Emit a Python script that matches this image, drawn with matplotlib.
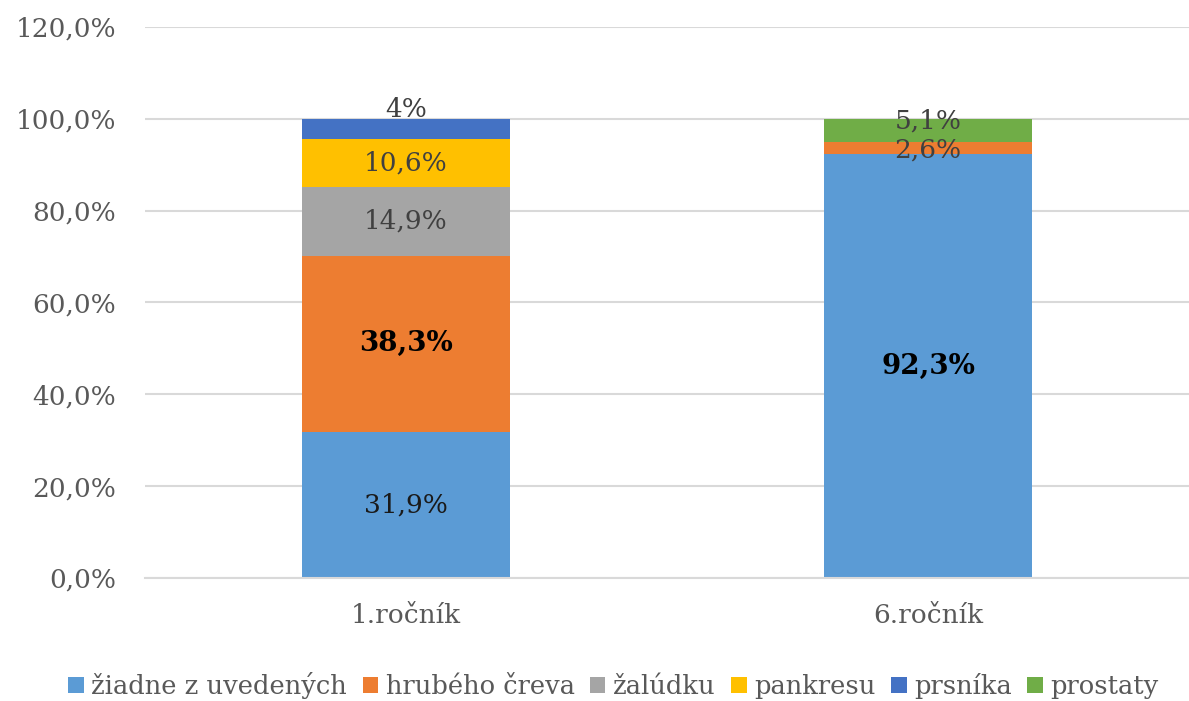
import matplotlib
matplotlib.use("Agg")
import matplotlib.pyplot as plt
import numpy as np

categories = ["1.ročník", "6.ročník"]
series_names = ["žiadne z uvedených", "hrubého čreva", "žalúdku", "pankresu", "prsníka", "prostaty"]
vals_none = [31.9, 92.3]
vals_colon = [38.3, 2.6]
vals_stomach = [14.9, 0.0]
vals_pancreas = [10.6, 0.0]
vals_breast = [4.3, 0.0]
vals_prostate = [0.0, 5.1]
labels_none = ["31,9%", "92,3%"]
labels_colon = ["38,3%", "2,6%"]
labels_stomach = ["14,9%", ""]
labels_pancreas = ["10,6%", ""]
labels_breast = ["4%", ""]
labels_prostate = ["", "5,1%"]
yticks = [0, 20, 40, 60, 80, 100, 120]
ytick_labels = ["0,0%", "20,0%", "40,0%", "60,0%", "80,0%", "100,0%", "120,0%"]

colors = ["#5B9BD5", "#ED7D31", "#A5A5A5", "#FFC000", "#4472C4", "#70AD47"]
series = [vals_none, vals_colon, vals_stomach, vals_pancreas, vals_breast, vals_prostate]
labels = [labels_none, labels_colon, labels_stomach, labels_pancreas, labels_breast, labels_prostate]

plt.rcParams['font.family'] = ['DejaVu Serif']
fig = plt.figure(figsize=(11.89, 7.01), dpi=100)
ax = fig.add_axes([0.122, 0.1755, 0.878, 0.786])

x = np.arange(len(categories))
bottom = np.zeros(len(categories))
for i, (name, vals, col, labs) in enumerate(zip(series_names, series, colors, labels)):
    v = np.array(vals)
    ax.bar(x, v, 0.4, bottom=bottom, color=col, label=name, zorder=2)
    for j in range(len(categories)):
        if labs[j]:
            yc = bottom[j] + v[j] / 2
            dy = 0
            weight = 'normal'
            color = '#404040'
            size = 19
            if labs[j] in ("38,3%", "92,3%"):
                weight = 'bold'
                color = 'black'
                size = 20
            if labs[j] == "31,9%":
                color = '#1a1a1a'
            if labs[j] == "4%":
                dy = 14
            if labs[j] == "5,1%":
                dy = 7
            if labs[j] == "2,6%":
                dy = -1
            ax.annotate(labs[j], (x[j], yc), xytext=(0, dy), textcoords='offset points',
                        ha='center', va='center', fontsize=size, color=color,
                        fontweight=weight, zorder=3)
    bottom = bottom + v

ax.set_xlim(-0.5, 1.5)
ax.set_ylim(0, 120)
ax.set_yticks(yticks)
ax.set_yticklabels(ytick_labels)
ax.set_xticks(x)
ax.set_xticklabels(categories)
ax.tick_params(axis='both', length=0, labelsize=19, colors='#595959')
ax.tick_params(axis='y', pad=21)
ax.tick_params(axis='x', pad=18)
ax.yaxis.grid(True, color='#D9D9D9', linewidth=1.5, zorder=0)
for s in ['top', 'right', 'left']:
    ax.spines[s].set_visible(False)
ax.spines['bottom'].set_color('#D9D9D9')
ax.spines['bottom'].set_linewidth(1.5)

leg = fig.legend(loc='lower center', bbox_to_anchor=(0.516, -0.03), ncol=6, frameon=False,
                 fontsize=18.5, handlelength=0.6, handleheight=0.6, handletextpad=0.3,
                 columnspacing=0.6, labelcolor='#595959')
fig.savefig("out.png", dpi=100)
